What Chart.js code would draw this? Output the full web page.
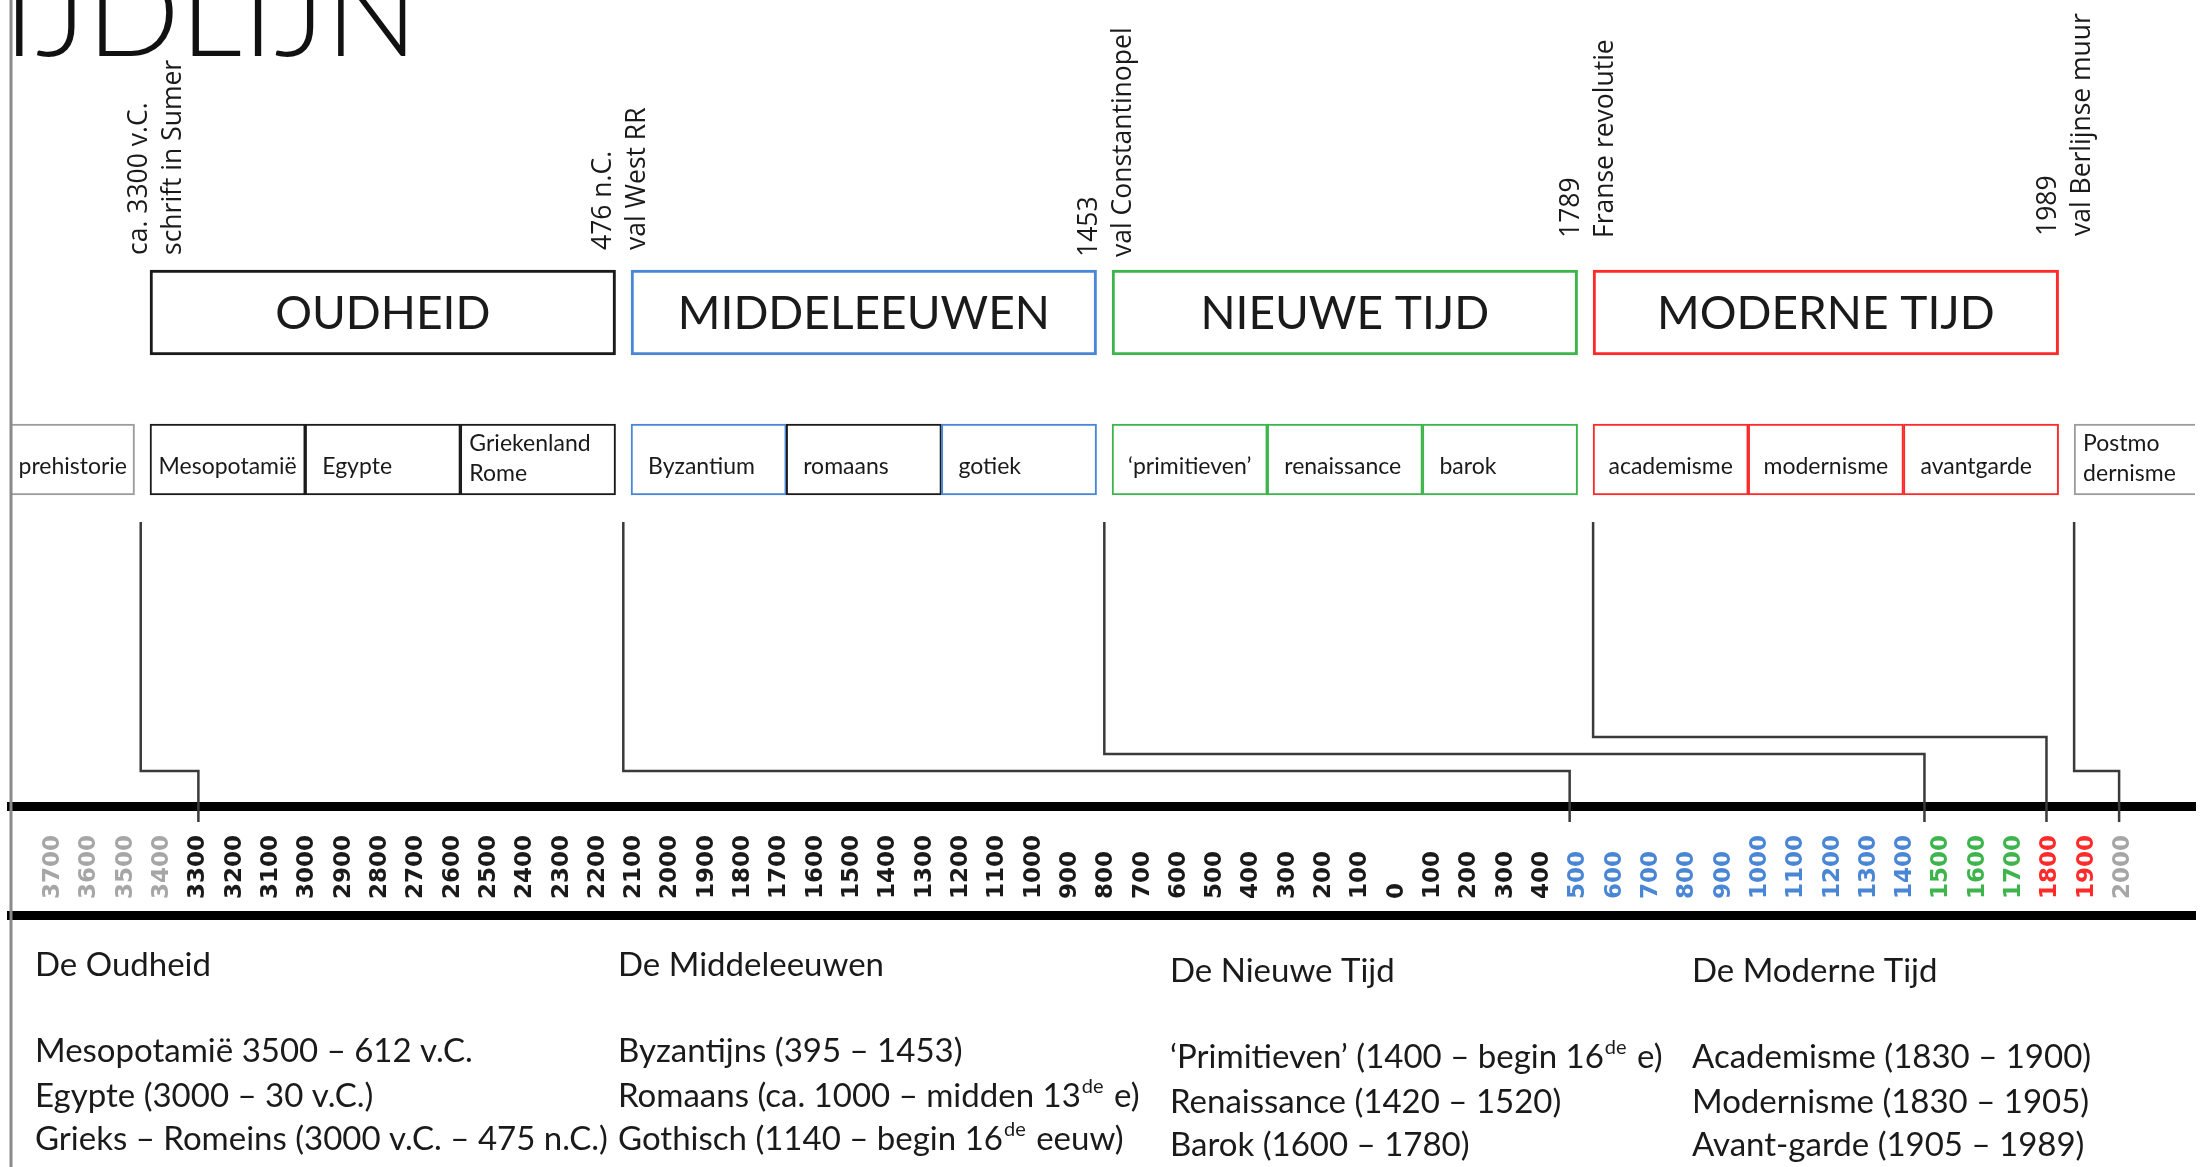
<!DOCTYPE html>
<html>
<head>
<meta charset="utf-8">
<title>Tijdlijn</title>
<script src="https://cdn.jsdelivr.net/npm/chart.js@4.4.1/dist/chart.umd.min.js"></script>
<style>
  html, body { margin: 0; padding: 0; background: #fff; }
  #wrap { width: 2203px; height: 1167px; }
</style>
</head>
<body>
<div id="wrap"><canvas id="tijdlijn" width="2203" height="1167"></canvas></div>
<script>
// gegevens
const tijdvakken = ['OUDHEID', 'MIDDELEEUWEN', 'NIEUWE TIJD', 'MODERNE TIJD'];
const stijlperiodes = ['Mesopotamië', 'Egypte', 'Griekenland\nRome',
                       'Byzantium', 'romaans', 'gotiek',
                       '‘primitieven’', 'renaissance', 'barok',
                       'academisme', 'modernisme', 'avantgarde'];
const randperiodes = ['prehistorie', 'Postmo\ndernisme'];
const gebeurtenisJaren = [-3300, 476, 1453, 1789, 1989];
const gebeurtenisTeksten = [
  ['ca. 3300 v.C.', 'schrift in Sumer'],
  ['476 n.C.', 'val West RR'],
  ['1453', 'val Constantinopel'],
  ['1789', 'Franse revolutie'],
  ['1989', 'val Berlijnse muur']
];
const tijdasJaren = [-3700, -3600, -3500, -3400, -3300, -3200, -3100, -3000, -2900, -2800,
                     -2700, -2600, -2500, -2400, -2300, -2200, -2100, -2000, -1900, -1800,
                     -1700, -1600, -1500, -1400, -1300, -1200, -1100, -1000, -900, -800,
                     -700, -600, -500, -400, -300, -200, -100, 0, 100, 200,
                     300, 400, 500, 600, 700, 800, 900, 1000, 1100, 1200,
                     1300, 1400, 1500, 1600, 1700, 1800, 1900, 2000];
const overzichtKoppen = ['De Oudheid', 'De Middeleeuwen', 'De Nieuwe Tijd', 'De Moderne Tijd'];
const overzichtRegels = [
  ['Mesopotamië 3500 – 612 v.C.', 'Egypte (3000 – 30 v.C.)', 'Grieks – Romeins (3000 v.C. – 475 n.C.)'],
  ['Byzantijns (395 – 1453)', 'Romaans (ca. 1000 – midden 13{de} e)', 'Gothisch (1140 – begin 16{de} eeuw)'],
  ['‘Primitieven’ (1400 – begin 16{de} e)', 'Renaissance (1420 – 1520)', 'Barok (1600 – 1780)'],
  ['Academisme (1830 – 1900)', 'Modernisme (1830 – 1905)', 'Avant-garde (1905 – 1989)']
];

// stijl
const grijs = '#9c9c9c';
const tijdvakKleuren = ['#1a1a1a', '#4a86d6', '#3db54c', '#ff2a2a'];
const stijlKleuren = tijdvakKleuren.flatMap(k => [k, k, k]);
stijlKleuren[4] = '#1a1a1a';
const eraKleuren = ['#a6a6a6', '#1a1a1a', '#4a86d6', '#3db54c', '#ff2a2a', '#a6a6a6'];

// opmaak (schema in vakeenheden, rijen in pixels van boven)
const VAK = 3.1;
const randVakken = [[-0.9, -0.1], [12.4, 13.4]];
const aansluiting = [-0.06, 3.05, 6.15, 9.3, 12.4];
const tekstVerschuiving = [16, -3, 2, -5, -9];
const RIJ = {
  tekstVoet: [255, 250, 257, 238, 236],
  blok: 312.5, stijl: 459.5,
  lijnTop: 522, knik: [771, 771, 754, 737, 771], lijnVoet: 822,
  as: 806, asOnder: 915,
  kop: [965, 965, 971, 971], regels: [1051, 1096, 1139], kolomDy: [0, 0, 6, 6]
};
const kolomX = [35, 618, 1170, 1692];

function eraVan(jaar) {
  let i = 0;
  while (i < gebeurtenisJaren.length && jaar >= gebeurtenisJaren[i]) i++;
  return i;
}

function tekstMetSup(ctx, s, x, y, size) {
  let cx = x;
  for (const d of s.split(/(\{[^}]*\})/)) {
    if (!d) continue;
    if (d[0] === '{') {
      const t = d.slice(1, -1);
      ctx.font = Math.round(size * 0.62) + 'px Lato';
      ctx.fillText(t, cx + 1, y - size * 0.3);
      cx += ctx.measureText(t).width + 3;
    } else {
      ctx.font = size + 'px Lato';
      ctx.fillText(d, cx, y);
      cx += ctx.measureText(d).width;
    }
  }
}

const schemaPlugin = {
  id: 'schema',
  afterDatasetsDraw(chart) {
    const { ctx, scales } = chart;
    const xs = scales.xs, xt = scales.x, y = scales.y;

    // verbindingslijnen van schema naar tijdas
    ctx.save();
    ctx.strokeStyle = '#3a3a3a';
    ctx.lineWidth = 2.5;
    gebeurtenisJaren.forEach((jaar, i) => {
      const x0 = xs.getPixelForValue(aansluiting[i]);
      const x1 = xt.getPixelForValue(jaar);
      const yk = y.getPixelForValue(RIJ.knik[i]);
      ctx.beginPath();
      ctx.moveTo(x0, y.getPixelForValue(RIJ.lijnTop));
      ctx.lineTo(x0, yk);
      ctx.lineTo(x1, yk);
      ctx.lineTo(x1, y.getPixelForValue(RIJ.lijnVoet));
      ctx.stroke();
    });

    // gedraaide teksten boven de blokken
    ctx.fillStyle = '#1a1a1a';
    ctx.font = '26.5px "Open Sans"';
    ctx.textAlign = 'left';
    ctx.textBaseline = 'middle';
    gebeurtenisTeksten.forEach((regels, i) => {
      ctx.save();
      ctx.translate(xs.getPixelForValue(aansluiting[i]) + tekstVerschuiving[i], y.getPixelForValue(RIJ.tekstVoet[i]));
      ctx.rotate(-Math.PI / 2);
      regels.forEach((r, j) => ctx.fillText(r, 0, (j - 0.5) * 34));
      ctx.restore();
    });

    // teksten in de blokken
    ctx.font = '46px Lato';
    ctx.textAlign = 'center';
    chart.getDatasetMeta(0).data.forEach((el, i) => {
      const p = el.getProps(['x', 'y', 'base'], true);
      ctx.fillText(tijdvakken[i], (p.x + p.base) / 2, p.y + 2);
    });
    ctx.font = '23px Lato';
    ctx.textAlign = 'left';
    const kleineVakken = [
      { meta: chart.getDatasetMeta(1), teksten: stijlperiodes },
      { meta: chart.getDatasetMeta(2), teksten: randperiodes }
    ];
    kleineVakken.forEach(set => {
      set.meta.data.forEach((el, i) => {
        const p = el.getProps(['x', 'y', 'base'], true);
        const links = Math.max(Math.min(p.x, p.base), chart.chartArea.left);
        const rechts = Math.min(Math.max(p.x, p.base), chart.chartArea.right);
        const regels = set.teksten[i].split('\n');
        if (regels.length === 1) {
          const vrij = (rechts - links - ctx.measureText(regels[0]).width) / 2;
          ctx.fillText(regels[0], links + Math.min(17, vrij), p.y + 7);
        } else {
          regels.forEach((r, j) => ctx.fillText(r, links + 9, p.y - 1 + (j - 0.5) * 30));
        }
      });
    });
    ctx.restore();
  },
  afterDraw(chart) {
    const { ctx } = chart;
    ctx.save();
    // rand van de dia
    ctx.strokeStyle = '#8a8a8a';
    ctx.lineWidth = 3;
    ctx.beginPath();
    ctx.moveTo(chart.chartArea.left, 0);
    ctx.lineTo(chart.chartArea.left, chart.height);
    ctx.stroke();

    // titel (deels buiten beeld)
    ctx.fillStyle = '#111';
    ctx.font = '300 123px Lato';
    ctx.textAlign = 'right';
    ctx.textBaseline = 'alphabetic';
    ctx.fillText('TIJDLIJN', 418, 56);

    // overzicht onderaan
    ctx.textAlign = 'left';
    ctx.textBaseline = 'middle';
    ctx.fillStyle = '#1a1a1a';
    overzichtKoppen.forEach((kop, k) => {
      ctx.font = '33px Lato';
      ctx.fillText(kop, kolomX[k], RIJ.kop[k]);
      overzichtRegels[k].forEach((r, j) => tekstMetSup(ctx, r, kolomX[k], RIJ.regels[j] + RIJ.kolomDy[k], 33));
    });
    ctx.restore();
  }
};

new Chart(document.getElementById('tijdlijn'), {
  type: 'bar',
  data: {
    datasets: [
      {
        label: 'tijdvakken',
        data: tijdvakken.map((_, p) => ({ x: [p * VAK, p * VAK + 3], y: RIJ.blok })),
        borderColor: tijdvakKleuren,
        borderWidth: 3,
        barThickness: 85
      },
      {
        label: 'stijlperiodes',
        data: stijlperiodes.map((_, k) => {
          const p = Math.floor(k / 3), s = k % 3;
          return { x: [p * VAK + s, p * VAK + s + 1], y: RIJ.stijl };
        }),
        borderColor: stijlKleuren,
        borderWidth: 2,
        barThickness: 71
      },
      {
        label: 'rand',
        data: randperiodes.map((_, i) => ({ x: randVakken[i], y: RIJ.stijl })),
        borderColor: grijs,
        borderWidth: 2,
        barThickness: 71
      }
    ]
  },
  options: {
    indexAxis: 'y',
    responsive: false,
    animation: false,
    devicePixelRatio: 1,
    layout: { padding: { left: 11, right: 8, top: 0, bottom: 0 } },
    datasets: {
      bar: {
        xAxisID: 'xs',
        yAxisID: 'y',
        grouped: false,
        backgroundColor: '#ffffff',
        borderSkipped: false
      }
    },
    scales: {
      y: { type: 'linear', min: 0, max: 1167, reverse: true, offset: false, display: false },
      xs: { type: 'linear', axis: 'x', min: -0.896, max: 13.179, offset: false, display: false },
      x: {
        type: 'linear',
        axis: 'x',
        min: -3816,
        max: 2198,
        offset: false,
        position: { y: RIJ.as },
        afterBuildTicks: s => { s.ticks = tijdasJaren.map(v => ({ value: v })); },
        grid: { display: false },
        border: { display: true, color: '#000', width: 9 },
        ticks: {
          autoSkip: false,
          minRotation: 90,
          maxRotation: 90,
          padding: 21,
          font: { family: 'DejaVu Sans', size: 23, weight: 'bold' },
          color: c => eraKleuren[eraVan(c.tick.value)],
          callback: v => {
            const s = String(Math.abs(v));
            return s + ' '.repeat(2 * (4 - s.length));
          }
        }
      },
      xl: {
        type: 'linear',
        axis: 'x',
        min: 0,
        max: 1,
        position: { y: RIJ.asOnder },
        grid: { display: false },
        border: { display: true, color: '#000', width: 9 },
        ticks: { display: false }
      }
    },
    plugins: {
      legend: { display: false },
      tooltip: { enabled: false }
    }
  },
  plugins: [schemaPlugin]
});
</script>
</body>
</html>
